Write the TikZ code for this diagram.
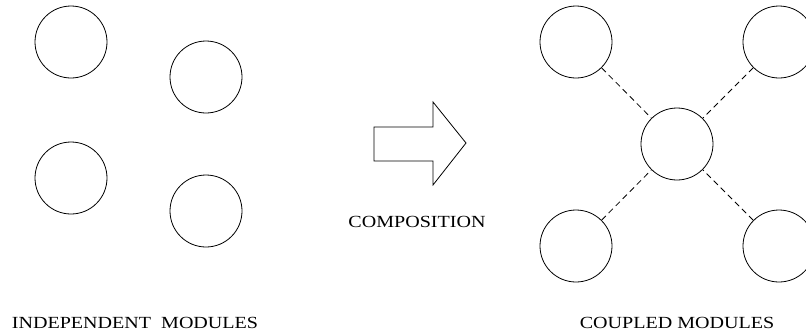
\documentclass[tikz,border=0pt]{standalone}
\usepackage{fontspec}
\setmainfont{Liberation Serif}
\newfontfamily\labelfont[FakeStretch=1.18]{Liberation Serif}
\usepackage{tikz}

\tikzset{
    module/.style={circle, draw, line width=0.8pt, minimum size=72pt, inner sep=0pt},
    coupling/.style={line width=0.8pt, dash pattern=on 6pt off 4pt},
    caption/.style={anchor=base, font=\labelfont\fontsize{17pt}{20pt}\selectfont}
}

\begin{document}
\begin{tikzpicture}[x=1pt, y=-1pt]
        \useasboundingbox (0,0) rectangle (806,335);

        \node [module] (A1) at (71,42) {};
        \node [module] (A2) at (206,77) {};
        \node [module] (A3) at (71,178) {};
        \node [module] (A4) at (206,211) {};
        \node [caption] (indep) at (135,328) {INDEPENDENT\ \ MODULES};

        \draw [line width=0.8pt] (374,127) -- (433,127) -- (433,102) -- (466,143)
            -- (433,185) -- (433,161) -- (374,161) -- cycle;
        \node [caption] (comp) at (417,227) {COMPOSITION};

        \node [module] (C0) at (677,144) {};
        \node [module] (C1) at (576,42) {};
        \node [module] (C2) at (779,42) {};
        \node [module] (C3) at (576,246) {};
        \node [module] (C4) at (779,246) {};
        \draw [coupling] (C1) -- (C0);
        \draw [coupling] (C2) -- (C0);
        \draw [coupling] (C3) -- (C0);
        \draw [coupling] (C4) -- (C0);
        \node [caption] (coupled) at (677,328) {COUPLED MODULES};
\end{tikzpicture}
\end{document}
